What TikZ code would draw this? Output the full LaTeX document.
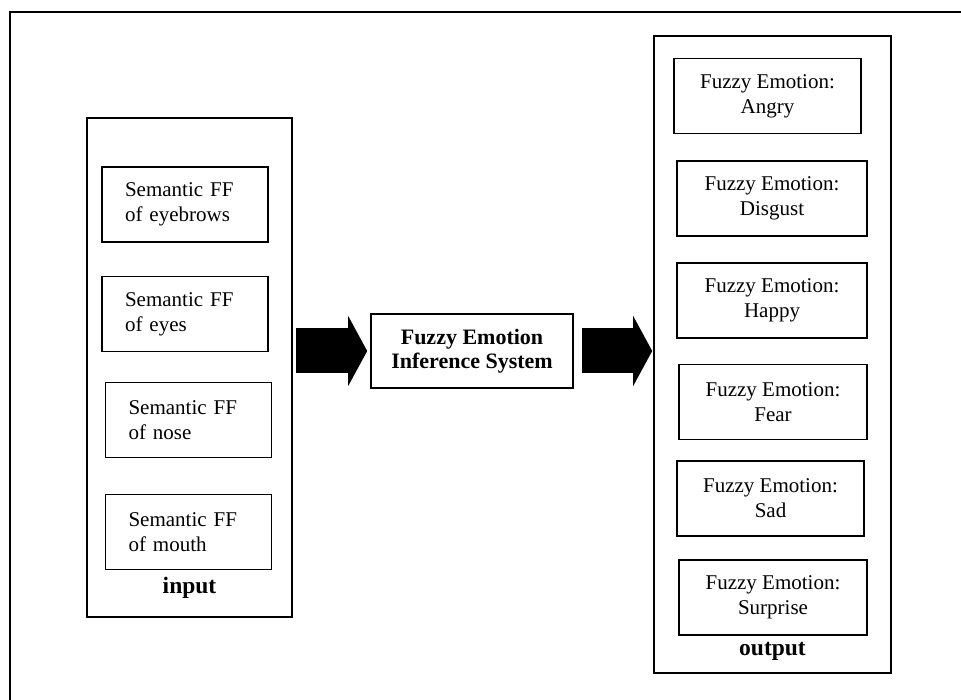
\documentclass[tikz,border=0pt]{standalone}
\usepackage{fontspec}
\setmainfont{Liberation Serif}
\usetikzlibrary{arrows.meta}

\begin{document}
\begin{tikzpicture}[x=1pt,y=-1pt,
    frame/.style={draw, line width=1.6pt, inner sep=0pt},
    feature/.style={frame, text width=120pt, align=left, inner xsep=23pt,
        minimum height=75pt, font=\fontsize{21}{25}\selectfont},
    emotion/.style={frame, align=center, minimum height=75pt,
        font=\fontsize{21}{25}\selectfont},
    label/.style={font=\fontsize{23.5}{26}\selectfont\bfseries},
    blockarrow/.style={line width=45pt,
        -{Triangle[length=19pt,width=70pt,line width=0pt]}}]
        \useasboundingbox (0,0) rectangle (961,700);
        \draw[line width=2.6pt] (10,700) -- (10,12) -- (961,12);

        % input side
        \node[frame, minimum width=205pt, minimum height=499pt] (input) at (189.5,367.5) {};
        \node[feature] (brows) at (185,204.5) {Semantic FF\\of eyebrows};
        \node[feature] (eyes) at (185,314) {Semantic FF\\of eyes};
        \node[feature] (nose) at (188.5,420) {Semantic FF\\of nose};
        \node[feature] (mouth) at (188.5,532) {Semantic FF\\of mouth};
        \node[label] (inlabel) at (189.5,588) {input};

        % inference system
        \node[frame, minimum width=202pt, minimum height=74pt, align=center,
            font=\fontsize{22}{24}\selectfont\bfseries] (fis) at (472,351)
            {Fuzzy Emotion\\Inference System};

        % output side
        \node[frame, minimum width=237pt, minimum height=637pt] (output) at (772.5,354.5) {};
        \node[emotion, minimum width=187pt] (angry) at (767.5,96) {Fuzzy Emotion:\\Angry};
        \node[emotion, minimum width=190pt] (disgust) at (772,198.5) {Fuzzy Emotion:\\Disgust};
        \node[emotion, minimum width=190pt] (happy) at (772,300.5) {Fuzzy Emotion:\\Happy};
        \node[emotion, minimum width=188pt] (fear) at (773,402) {Fuzzy Emotion:\\Fear};
        \node[emotion, minimum width=187pt] (sad) at (770.5,498.5) {Fuzzy Emotion:\\Sad};
        \node[emotion, minimum width=188pt] (surprise) at (773,597.5) {Fuzzy Emotion:\\Surprise};
        \node[label] (outlabel) at (772.5,651) {output};

        % block arrows
        \draw[blockarrow, shorten <=3.5pt, shorten >=3pt] (input.east |- fis.west) -- (fis.west);
        \draw[blockarrow, shorten <=8pt, shorten >=1pt] (fis.east) -- (output.west |- fis.east);
\end{tikzpicture}
\end{document}
